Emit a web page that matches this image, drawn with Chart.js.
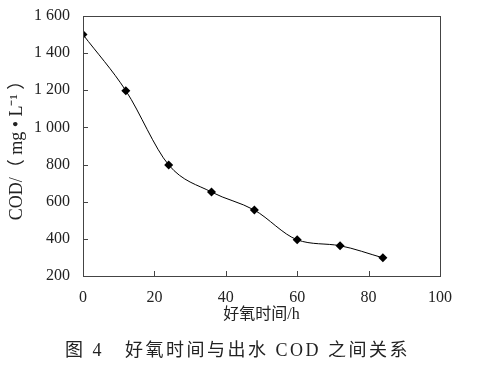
<!DOCTYPE html>
<html>
<head>
<meta charset="utf-8">
<script src="https://cdn.jsdelivr.net/npm/chart.js@4"></script>
<style>
  html, body { margin: 0; padding: 0; background: #fff; }
  #wrap { position: relative; width: 481px; height: 376px; }
  #caption {
    position: absolute; left: 65px; top: 339px; white-space: nowrap;
    font-family: 'Liberation Serif', 'Noto Sans CJK SC', serif;
    font-size: 18px; line-height: 22px; letter-spacing: 2.5px; color: #222;
  }
</style>
</head>
<body>
<div id="wrap">
  <canvas id="chart_cod"></canvas>
  <div id="caption">图 4&nbsp;&nbsp; 好氧时间与出水 COD 之间关系</div>
</div>
<script>
// aeration time (h) vs effluent COD (mg/L)
var hours = [0, 12, 24, 36, 48, 60, 72, 84];
var codValues = [1500, 1198, 798, 652, 555, 395, 363, 298];
var xTicks = [0, 20, 40, 60, 80, 100];
var yTicks = [200, 400, 600, 800, 1000, 1200, 1400, 1600];

var serif = "'Liberation Serif', 'Times New Roman', 'Noto Sans CJK SC', serif";

function fmtThousands(v) {
  v = Math.round(v);
  if (v >= 1000) {
    var s = String(v);
    return s.slice(0, s.length - 3) + ' ' + s.slice(s.length - 3);
  }
  return String(v);
}

var chart_cod = new Chart(document.getElementById('chart_cod'), {
    type: 'line',
    data: {
        datasets: [
            {
                label: 'COD',
                data: hours.map(function (h, i) { return { x: h, y: codValues[i] }; }),
                borderColor: '#000',
                borderWidth: 1,
                backgroundColor: '#000',
                pointStyle: 'rectRot',
                pointRadius: 4.5,
                pointBorderWidth: 0,
                cubicInterpolationMode: 'monotone',
                fill: false
            }
        ]
    },
    options: {
        animation: false,
        responsive: true,
        maintainAspectRatio: false,
        devicePixelRatio: 1,
        layout: { padding: { left: 0, top: 16, right: 41, bottom: 41.6 } },
        plugins: {
            legend: { display: false },
            tooltip: { enabled: false }
        },
        scales: {
            x: {
                type: 'linear',
                min: 0,
                max: 100,
                afterBuildTicks: function (scale) {
                    scale.ticks = xTicks.map(function (v) { return { value: v }; });
                },
                grid: { display: false },
                border: { display: false },
                ticks: {
                    color: '#222',
                    padding: 4,
                    font: { family: serif, size: 16 },
                    maxRotation: 0
                },
                title: {
                    display: true,
                    text: '好氧时间/h',
                    color: '#222',
                    font: { family: serif, size: 16 },
                    padding: { top: 0, bottom: 10 }
                },
                afterFit: function (scale) { scale.height = 58.4; }
            },
            y: {
                type: 'linear',
                min: 200,
                max: 1600,
                afterBuildTicks: function (scale) {
                    scale.ticks = yTicks.map(function (v) { return { value: v }; });
                },
                grid: { display: false },
                border: { display: false },
                ticks: {
                    color: '#222',
                    padding: 5,
                    font: { family: serif, size: 16 },
                    callback: function (v) { return fmtThousands(v); }
                },
                title: {
                    display: true,
                    text: 'COD/（ mg • L⁻¹ ）',
                    color: '#222',
                    font: { family: serif, size: 18 },
                    padding: { top: 6, bottom: 0 }
                },
                afterFit: function (scale) { scale.width = 83; }
            }
        }
    },
    plugins: [{
        id: 'frameAndTicks',
        beforeDraw: function (chart) {
            var ctx = chart.ctx;
            ctx.save();
            ctx.fillStyle = 'white';
            ctx.fillRect(0, 0, chart.width, chart.height);
            ctx.restore();
        },
        afterDraw: function (chart) {
            var ctx = chart.ctx;
            var a = chart.chartArea;
            var xs = chart.scales.x, ys = chart.scales.y;
            ctx.save();
            ctx.strokeStyle = '#444';
            ctx.lineWidth = 1;
            ctx.strokeRect(Math.round(a.left) + 0.5, Math.round(a.top) + 0.5,
                Math.round(a.right - a.left), Math.round(a.bottom - a.top));
            ctx.beginPath();
            xs.ticks.forEach(function (t) {
                var px = Math.round(xs.getPixelForValue(t.value)) + 0.5;
                ctx.moveTo(px, a.bottom);
                ctx.lineTo(px, a.bottom - 5);
            });
            ys.ticks.forEach(function (t) {
                var py = Math.round(ys.getPixelForValue(t.value)) + 0.5;
                ctx.moveTo(a.left, py);
                ctx.lineTo(a.left + 5, py);
            });
            ctx.stroke();
            ctx.restore();
        }
    }]
});
</script>
</body>
</html>
